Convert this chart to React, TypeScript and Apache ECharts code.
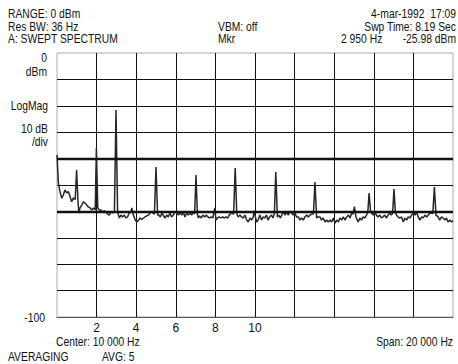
import React, { useEffect, useRef } from "react";
import * as echarts from "echarts";

// Trace: frequency in kHz, level in dBm
const freqKHz = [
  0.0, 0.07, 0.15, 0.24, 0.32, 0.4, 0.49, 0.57, 0.66, 0.74, 0.82, 0.92, 0.99, 1.06, 1.1, 1.16, 1.25, 1.33, 1.41, 1.5,
  1.58, 1.67, 1.75, 1.83, 1.93, 1.99, 2.06, 2.14, 2.22, 2.3, 2.39, 2.47, 2.56, 2.64, 2.73, 2.81, 2.9, 2.98, 3.06, 3.15,
  3.23, 3.31, 3.4, 3.48, 3.56, 3.65, 3.73, 3.78, 3.84, 3.95, 4.03, 4.12, 4.2, 4.28, 4.37, 4.45, 4.53, 4.62, 4.7, 4.78,
  4.92, 5.0, 5.08, 5.14, 5.22, 5.3, 5.45, 5.54, 5.62, 5.7, 5.79, 5.87, 5.96, 6.04, 6.13, 6.21, 6.3, 6.38, 6.46, 6.55,
  6.63, 6.72, 6.8, 6.88, 6.95, 7.02, 7.09, 7.14, 7.2, 7.29, 7.37, 7.46, 7.54, 7.62, 7.71, 7.79, 7.87, 7.97, 8.03, 8.1,
  8.2, 8.28, 8.36, 8.45, 8.53, 8.62, 8.7, 8.79, 8.92, 9.0, 9.08, 9.15, 9.24, 9.32, 9.41, 9.49, 9.58, 9.66, 9.75, 9.83,
  9.91, 9.96, 10.0, 10.08, 10.16, 10.24, 10.33, 10.41, 10.49, 10.58, 10.66, 10.74, 10.83, 10.91, 10.98, 11.05, 11.13, 11.2, 11.28, 11.35,
  11.43, 11.52, 11.6, 11.68, 11.77, 11.85, 11.93, 12.02, 12.1, 12.19, 12.27, 12.36, 12.44, 12.52, 12.61, 12.69, 12.78, 12.86, 12.95, 13.03,
  13.11, 13.18, 13.28, 13.36, 13.44, 13.54, 13.62, 13.7, 13.79, 13.87, 13.96, 14.04, 14.13, 14.21, 14.29, 14.38, 14.46, 14.55, 14.63, 14.72,
  14.8, 14.88, 14.95, 15.02, 15.1, 15.21, 15.3, 15.38, 15.46, 15.55, 15.63, 15.7, 15.76, 15.84, 15.97, 16.06, 16.13, 16.21, 16.3, 16.38,
  16.46, 16.55, 16.63, 16.72, 16.8, 16.88, 16.95, 17.02, 17.09, 17.21, 17.32, 17.4, 17.49, 17.57, 17.66, 17.74, 17.82, 17.91, 17.99, 18.08,
  18.16, 18.24, 18.33, 18.42, 18.5, 18.58, 18.67, 18.75, 18.84, 18.98, 19.06, 19.14, 19.25, 19.33, 19.42, 19.5, 19.59, 19.67, 19.75, 19.84,
  19.92, 20.0,
];
const levelDbm = [
  -38.6, -49.2, -52.5, -55.0, -53.8, -51.9, -53.0, -52.5, -54.4, -56.4, -54.9, -55.5, -44.3, -56.0, -60.6, -58.7, -57.6, -56.4, -56.8, -57.6,
  -58.3, -58.7, -59.5, -58.7, -59.5, -36.0, -58.7, -59.5, -59.5, -60.2, -59.8, -60.2, -61.0, -61.4, -60.2, -60.6, -60.0, -21.6, -60.2, -62.5,
  -61.4, -62.1, -61.4, -62.5, -62.1, -60.6, -60.2, -58.7, -61.0, -63.3, -64.0, -63.3, -62.5, -63.0, -62.5, -62.1, -61.7, -61.4, -60.6, -60.2,
  -61.0, -43.2, -61.4, -61.4, -62.1, -60.6, -62.5, -61.4, -62.1, -60.6, -62.1, -61.4, -60.2, -60.6, -61.4, -60.6, -61.4, -60.2, -62.1, -60.6,
  -61.4, -60.6, -61.4, -60.2, -61.0, -46.2, -61.0, -62.5, -61.7, -62.5, -61.4, -62.1, -61.4, -62.1, -62.5, -62.1, -62.5, -58.7, -63.3, -62.5,
  -62.1, -62.5, -62.1, -62.5, -62.1, -62.5, -61.4, -60.6, -61.0, -43.6, -61.0, -62.1, -61.4, -62.1, -62.5, -61.4, -63.3, -64.0, -62.5, -63.3,
  -62.1, -59.8, -61.4, -64.0, -63.3, -61.4, -63.3, -62.1, -62.5, -61.4, -63.3, -62.1, -61.4, -62.5, -60.6, -45.1, -62.1, -61.4, -62.5, -61.4,
  -60.0, -61.4, -60.0, -61.4, -60.0, -60.6, -61.4, -60.6, -62.1, -62.1, -63.3, -62.5, -63.3, -62.1, -61.4, -62.1, -61.4, -61.0, -61.0, -48.9,
  -62.5, -62.1, -62.1, -63.3, -62.5, -64.0, -63.3, -64.0, -63.3, -64.0, -62.5, -64.4, -63.3, -64.0, -62.5, -63.3, -62.1, -63.3, -62.1, -61.4,
  -62.5, -60.6, -61.0, -58.2, -62.1, -64.0, -62.5, -63.3, -62.1, -62.5, -61.4, -60.2, -53.1, -60.2, -61.4, -60.2, -61.4, -62.1, -61.4, -62.5,
  -62.1, -61.4, -62.5, -61.4, -60.6, -61.4, -60.8, -51.5, -60.6, -62.1, -62.5, -62.1, -64.0, -62.5, -63.3, -62.1, -62.5, -61.4, -60.6, -61.4,
  -60.2, -62.1, -63.3, -62.1, -62.5, -61.4, -62.1, -61.4, -60.6, -60.8, -50.8, -61.4, -62.1, -63.3, -62.1, -62.5, -63.3, -62.5, -64.0, -63.3,
  -64.0, -63.5,
];

const xTickLabels = [2, 4, 6, 8, 10];
const refLines = [-40, -60];

const FONT = '"Liberation Sans", Arial, sans-serif';
const NARROW = 0.86;

export default function App() {
  const ref = useRef<HTMLDivElement>(null);
  useEffect(() => {
    if (!ref.current) return;
    const chart = echarts.init(ref.current, null, { renderer: "svg" });
    const data = freqKHz.map((f, i) => [f, levelDbm[i]]);
    const txt = (text: string, x: number, y: number, align = "left", size = 12) => ({
      type: "text",
      x,
      y,
      scaleX: NARROW,
      silent: true,
      style: {
        text,
        fill: "#111",
        font: `${size}px ${FONT}`,
        align,
        verticalAlign: "middle",
        textAlign: align,
        textVerticalAlign: "middle",
      },
    });
    chart.setOption({
      animation: false,
      backgroundColor: "#fff",
      grid: {
        left: 57,
        top: 53,
        right: 5,
        bottom: 47,
        show: true,
        borderColor: "#aaa",
        borderWidth: 1,
      },
      xAxis: {
        type: "value",
        min: 0,
        max: 20,
        interval: 2,
        axisLine: { show: true, onZero: false, lineStyle: { color: "#555", width: 1 } },
        axisTick: { show: false },
        splitLine: { show: true, showMinLine: false, showMaxLine: false, lineStyle: { color: "#111", width: 1 } },
        axisLabel: {
          margin: 5,
          color: "#111",
          fontSize: 12,
          fontFamily: FONT,
          formatter: (v: number) => (xTickLabels.includes(v) ? String(v) : ""),
        },
      },
      yAxis: {
        type: "value",
        min: -100,
        max: 0,
        interval: 10,
        axisLine: { show: false },
        axisTick: { show: false },
        axisLabel: { show: false },
        splitLine: { show: true, showMinLine: false, showMaxLine: false, lineStyle: { color: "#111", width: 1 } },
      },
      series: [
        {
          type: "line",
          data,
          showSymbol: false,
          symbol: "none",
          lineStyle: { color: "#262626", width: 1.5 },
          markLine: {
            silent: true,
            symbol: "none",
            label: { show: false },
            lineStyle: { color: "#111", width: 2.4, type: "solid" },
            data: refLines.map((v) => ({ yAxis: v })),
          },
        },
      ],
      graphic: [
        txt("RANGE: 0 dBm", 8, 14),
        txt("Res BW: 36 Hz", 8, 26.5),
        txt("A: SWEPT SPECTRUM", 8, 39),
        txt("VBM: off", 218, 26.5),
        txt("Mkr", 218, 39),
        txt("4-mar-1992  17:09", 456, 14, "right"),
        txt("Swp Time: 8.19 Sec", 456, 26.5, "right"),
        txt("2 950 Hz", 341, 39),
        txt("-25.98 dBm", 456, 39, "right"),
        txt("0", 47, 58, "right"),
        txt("dBm", 47, 71.5, "right"),
        txt("LogMag", 48, 106, "right"),
        txt("10 dB", 48, 129, "right"),
        txt("/div", 48, 142, "right"),
        txt("-100", 45, 317.5, "right"),
        txt("Center: 10 000 Hz", 56, 342),
        txt("Span: 20 000 Hz", 453, 341.5, "right"),
        txt("AVERAGING", 8, 356.5),
        txt("AVG: 5", 102, 356.5),
      ],
    });
    return () => chart.dispose();
  }, []);
  return (
    <div
      ref={ref}
      style={{ position: "fixed", left: 0, top: 0, width: 458, height: 364, background: "#fff" }}
    />
  );
}
